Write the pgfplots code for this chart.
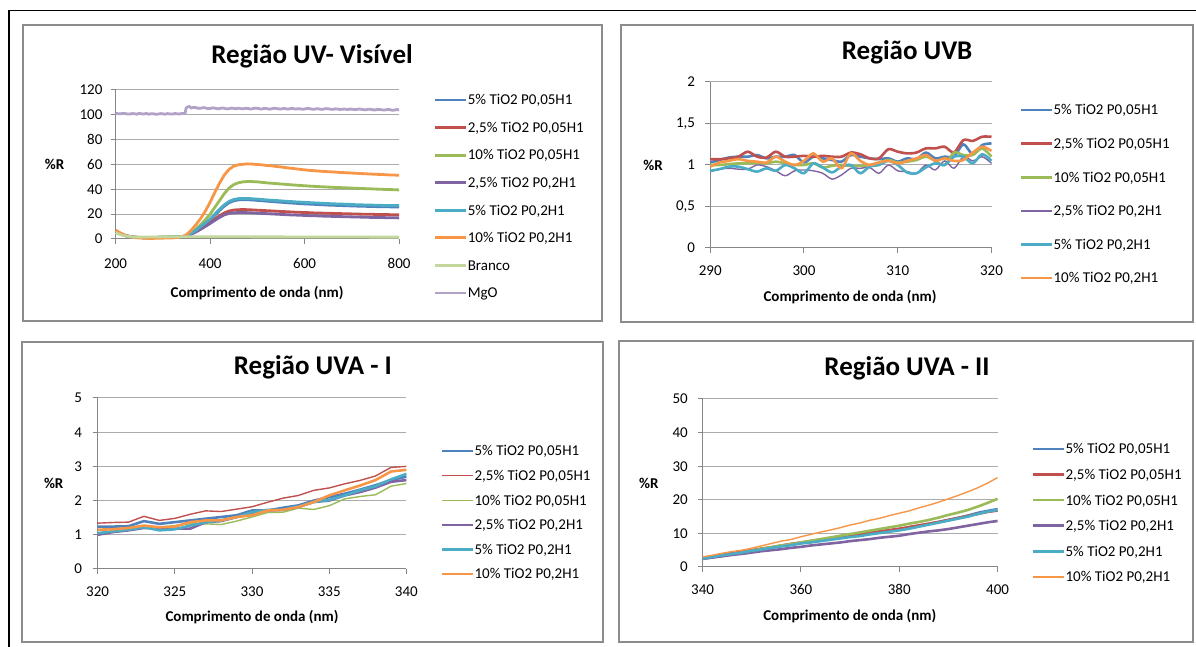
\documentclass[border=0pt]{standalone}
\usepackage{pgfplots}
\pgfplotsset{compat=1.18}
\usepackage{fontspec}
\setmainfont{Carlito}

\definecolor{xblue}{HTML}{4F81BD}
\definecolor{xred}{HTML}{C0504D}
\definecolor{xgreen}{HTML}{9BBB59}
\definecolor{xpurple}{HTML}{8064A2}
\definecolor{xaqua}{HTML}{4BACC6}
\definecolor{xorange}{HTML}{F79646}
\definecolor{xbranco}{HTML}{C3D69B}
\definecolor{xmgo}{HTML}{B3A2C7}
\definecolor{axisgray}{HTML}{868686}
\definecolor{gridgray}{HTML}{ABABAB}
\definecolor{framegray}{HTML}{8C8C8C}

\newcommand\titlefont{\fontsize{27}{32}\selectfont\bfseries}
\newcommand\smallfont{\fontsize{15}{18}\selectfont}

\pgfplotsset{
  panel/.style={
    scale only axis, anchor=south west, enlargelimits=false, clip=false,
    axis lines=left, axis line style={-, draw=axisgray, line width=1pt},
    tick align=outside, major tick length=5pt,
    tick style={draw=axisgray, line width=1pt},
    ymajorgrids, grid style={draw=gridgray, line width=1pt},
    ticklabel style={font=\smallfont, text=black, inner sep=0pt},
    /pgf/number format/assume math mode=true,
    every axis title/.style={font=\titlefont, anchor=base},
    every axis x label/.style={font=\smallfont\bfseries, anchor=base},
    every axis y label/.style={font=\smallfont\bfseries, anchor=base},
    legend cell align=left,
    legend style={draw=none, fill=none, inner sep=0pt, outer sep=0pt,
      anchor=north west, column sep=0pt, font=\smallfont,
      nodes={inner sep=0pt, outer sep=0pt, text height=9.7pt, text depth=0pt}},
    legend image code/.code={\draw[##1] (0pt,0pt) -- (31pt,0pt);},
    every axis plot/.append style={line join=round, no markers},
  },
  wide line/.style={line width=2.8pt},
  thick line/.style={line width=2.6pt},
  thin line/.style={line width=1.4pt},
}

\begin{document}
\begin{tikzpicture}[x=1pt,y=1pt]
\useasboundingbox (0,0) rectangle (1196,647);
% page frame and chart frames
\draw[black, line width=1.7pt] (9,0) -- (9,636.5) -- (1196,636.5);
\draw[framegray, line width=1.5pt] (23,326) rectangle (602,622);
\draw[framegray, line width=1.5pt] (621,325) rectangle (1193,622);
\draw[framegray, line width=1.5pt] (22,5) rectangle (603,305);
\draw[framegray, line width=1.5pt] (619,5) rectangle (1193,306);

% ---------------- Região UV- Visível ----------------
\begin{axis}[panel, at={(115.6pt,408pt)}, width=283.5pt, height=149pt,
  xmin=200, xmax=800, ymin=0, ymax=120,
  xtick={200,400,600,800}, ytick={0,20,...,120},
  xticklabel style={yshift=-14.25pt}, yticklabel style={xshift=-8pt},
  title={Região UV- Visível}, title style={at={(axis description cs:0.693,1.179)}},
  xlabel={Comprimento de onda (nm)}, xlabel style={at={(axis description cs:0.499,-0.394)}},
  ylabel={\%R}, ylabel style={at={(axis description cs:-0.215,0.468)}},
  legend style={at={(axis description cs:1.1231,0.9654)}, row sep=17.87pt},
]
\addplot[xblue, wide line] coordinates {(200,6.0)(210,4.2)(220,2.8)(230,1.9)(240,1.4)(250,1.2)(260,1.1)(270,1.1)(280,1.2)(290,1.3)(300,1.4)(310,1.5)(320,1.5)(330,1.6)(340,1.8)(350,2.4)(360,4.3)(370,6.7)(380,9.5)(390,12.4)(400,15.3)(410,19)(420,23)(430,26.5)(440,29.2)(450,30.8)(460,31.5)(470,31.7)(480,31.6)(490,31.4)(500,31.1)(510,30.8)(520,30.5)(530,30.2)(540,29.9)(550,29.6)(560,29.3)(570,29.0)(580,28.8)(590,28.5)(600,28.3)(610,28.1)(620,27.9)(630,27.7)(640,27.5)(650,27.3)(660,27.2)(670,27.0)(680,26.9)(690,26.8)(700,26.6)(710,26.5)(720,26.4)(730,26.3)(740,26.2)(750,26.1)(760,26.0)(770,25.9)(780,25.9)(790,25.8)(800,25.8)};
\addlegendentry{5\% TiO2 P0,05H1}
\addplot[xred, wide line] coordinates {(200,6.8)(210,4.6)(220,3.0)(230,2.0)(240,1.5)(250,1.2)(260,1.1)(270,1.1)(280,1.1)(290,1.2)(300,1.3)(310,1.4)(320,1.4)(330,1.5)(340,1.7)(350,2.3)(360,4.0)(370,6.0)(380,8.3)(390,10.8)(400,13.3)(410,16)(420,18.7)(430,21)(440,22.5)(450,23.3)(460,23.6)(470,23.7)(480,23.6)(490,23.4)(500,23.2)(510,23.0)(520,22.8)(530,22.6)(540,22.4)(550,22.2)(560,22.0)(570,21.8)(580,21.6)(590,21.5)(600,21.3)(610,21.2)(620,21.0)(630,20.9)(640,20.8)(650,20.7)(660,20.6)(670,20.5)(680,20.4)(690,20.3)(700,20.2)(710,20.1)(720,20.0)(730,19.9)(740,19.9)(750,19.8)(760,19.7)(770,19.7)(780,19.6)(790,19.6)(800,19.5)};
\addlegendentry{2,5\% TiO2 P0,05H1}
\addplot[xgreen, wide line] coordinates {(200,6.0)(210,4.2)(220,2.8)(230,1.9)(240,1.4)(250,1.2)(260,1.1)(270,1.1)(280,1.2)(290,1.3)(300,1.4)(310,1.4)(320,1.5)(330,1.5)(340,1.7)(350,2.5)(360,5)(370,8)(380,11.5)(390,15.5)(400,20)(410,25.5)(420,31)(430,36.5)(440,41)(450,43.8)(460,45.3)(470,46)(480,46.3)(490,46.2)(500,46.0)(510,45.6)(520,45.2)(530,44.9)(540,44.6)(550,44.3)(560,44.0)(570,43.7)(580,43.4)(590,43.1)(600,42.9)(610,42.6)(620,42.4)(630,42.2)(640,42.0)(650,41.8)(660,41.6)(670,41.5)(680,41.3)(690,41.2)(700,41.0)(710,40.8)(720,40.7)(730,40.5)(740,40.4)(750,40.2)(760,40.1)(770,39.9)(780,39.8)(790,39.7)(800,39.5)};
\addlegendentry{10\% TiO2 P0,05H1}
\addplot[xpurple, wide line] coordinates {(200,6.0)(210,4.2)(220,2.8)(230,1.9)(240,1.4)(250,1.2)(260,1.1)(270,1.1)(280,1.2)(290,1.3)(300,1.4)(310,1.5)(320,1.5)(330,1.6)(340,1.8)(350,2.2)(360,3.8)(370,5.7)(380,7.8)(390,10.1)(400,12.5)(410,15)(420,17.4)(430,19.4)(440,20.6)(450,21.1)(460,21.3)(470,21.3)(480,21.2)(490,21.0)(500,20.8)(510,20.6)(520,20.4)(530,20.2)(540,20.0)(550,19.8)(560,19.6)(570,19.4)(580,19.3)(590,19.1)(600,19.0)(610,18.8)(620,18.7)(630,18.6)(640,18.4)(650,18.3)(660,18.2)(670,18.1)(680,18.0)(690,17.9)(700,17.8)(710,17.7)(720,17.6)(730,17.5)(740,17.4)(750,17.3)(760,17.3)(770,17.2)(780,17.1)(790,17.1)(800,17.0)};
\addlegendentry{2,5\% TiO2 P0,2H1}
\addplot[xaqua, wide line] coordinates {(200,6.0)(210,4.2)(220,2.8)(230,1.9)(240,1.4)(250,1.2)(260,1.1)(270,1.1)(280,1.2)(290,1.3)(300,1.4)(310,1.5)(320,1.5)(330,1.6)(340,1.8)(350,2.5)(360,4.5)(370,7)(380,10)(390,13)(400,16)(410,20)(420,24)(430,27.5)(440,30.2)(450,31.8)(460,32.5)(470,32.7)(480,32.6)(490,32.4)(500,32.1)(510,31.8)(520,31.5)(530,31.2)(540,31.0)(550,30.7)(560,30.4)(570,30.2)(580,29.9)(590,29.7)(600,29.5)(610,29.3)(620,29.1)(630,28.9)(640,28.7)(650,28.5)(660,28.4)(670,28.2)(680,28.1)(690,27.9)(700,27.8)(710,27.6)(720,27.5)(730,27.4)(740,27.3)(750,27.2)(760,27.1)(770,27.0)(780,27.0)(790,26.9)(800,26.9)};
\addlegendentry{5\% TiO2 P0,2H1}
\addplot[xorange, wide line] coordinates {(200,7.0)(210,4.8)(220,3.0)(230,1.8)(240,1.1)(250,0.8)(260,0.6)(270,0.5)(280,0.5)(290,0.6)(300,0.7)(310,0.8)(320,0.9)(330,1.1)(340,1.8)(350,3.5)(360,7)(370,11.5)(380,16.5)(390,22.5)(400,29.5)(410,37.5)(420,45)(430,51.5)(440,56)(450,58.7)(460,59.8)(470,60.2)(480,60.5)(490,60.3)(500,60.0)(510,59.7)(520,59.2)(530,58.9)(540,58.4)(550,58.0)(560,57.5)(570,57.0)(580,56.6)(590,56.1)(600,55.7)(610,55.3)(620,55.0)(630,54.7)(640,54.4)(650,54.2)(660,54.0)(670,53.7)(680,53.5)(690,53.3)(700,53.1)(710,52.9)(720,52.7)(730,52.5)(740,52.3)(750,52.1)(760,52.0)(770,51.8)(780,51.6)(790,51.5)(800,51.3)};
\addlegendentry{10\% TiO2 P0,2H1}
\addplot[xbranco, wide line] coordinates {(200,5.0)(210,3.5)(220,2.5)(230,1.9)(240,1.6)(250,1.5)(300,1.7)(350,1.8)(400,1.8)(450,1.8)(500,1.7)(550,1.7)(600,1.6)(650,1.6)(700,1.6)(750,1.5)(800,1.5)};
\addlegendentry{Branco}
\addplot[xmgo, wide line] coordinates {(200,101.3)(205,100.9)(210,100.8)(215,101.2)(220,101.0)(225,100.7)(230,100.6)(235,101.0)(240,100.9)(245,100.5)(250,101.2)(255,100.8)(260,100.7)(265,101.1)(270,100.5)(275,100.9)(280,100.9)(285,100.4)(290,100.6)(295,101.0)(300,100.8)(305,100.5)(310,101.0)(315,100.7)(320,100.6)(325,101.0)(330,100.9)(335,100.6)(340,101.1)(347,101.0)(349,105.2)(352,106.3)(356,106.8)(360,105.5)(365,106.0)(370,105.8)(375,105.2)(380,105.3)(385,105.8)(390,105.6)(395,105.0)(400,105.1)(405,105.6)(410,105.4)(415,104.9)(420,105.0)(425,105.5)(430,105.3)(435,104.8)(440,104.9)(445,105.4)(450,105.2)(455,104.9)(460,105.4)(465,105.0)(470,104.8)(475,105.3)(480,105.1)(485,104.7)(490,104.9)(495,105.4)(500,105.2)(505,104.8)(510,104.7)(515,105.2)(520,105.0)(525,104.6)(530,104.8)(535,105.3)(540,105.1)(545,104.8)(550,104.7)(555,105.1)(560,104.9)(565,104.6)(570,105.0)(575,105.2)(580,104.6)(585,104.9)(590,104.9)(595,104.5)(600,104.7)(605,105.1)(610,105.0)(615,104.6)(620,104.5)(625,104.9)(630,104.8)(635,104.4)(640,104.6)(645,105.0)(650,104.9)(655,104.5)(660,104.4)(665,104.8)(670,104.7)(675,104.3)(680,104.5)(685,104.7)(690,104.2)(695,104.6)(700,104.6)(705,104.2)(710,104.3)(715,104.7)(720,104.5)(725,104.1)(730,104.1)(735,104.5)(740,104.4)(745,104.0)(750,104.0)(755,104.4)(760,104.3)(765,103.9)(770,103.9)(775,104.3)(780,104.2)(785,103.7)(790,103.8)(795,104.2)(800,104.1)};
\addlegendentry{MgO}
\end{axis}

% ---------------- Região UVB ----------------
\begin{axis}[panel, at={(710.2pt,399pt)}, width=281.3pt, height=166pt,
  xmin=290, xmax=320, ymin=0, ymax=2,
  xtick={290,300,310,320}, ytick={0,0.5,1,1.5,2},
  /pgf/number format/use comma,
  xticklabel style={yshift=-12.25pt}, yticklabel style={xshift=-10pt},
  title={Região UVB}, title style={at={(axis description cs:0.700,1.1325)}},
  xlabel={Comprimento de onda (nm)}, xlabel style={at={(axis description cs:0.497,-0.3235)}},
  ylabel={\%R}, ylabel style={at={(axis description cs:-0.203,0.4657)}},
  legend style={at={(axis description cs:1.1013,0.8605)}, row sep=23.9pt},
  every axis plot/.append style={smooth, tension=0.5},
]
\addplot[xblue, thick line] coordinates {(290,1.03)(291,1.06)(292,1.09)(293,1.10)(294,1.10)(295,1.12)(296,1.08)(297,1.10)(298,1.10)(299,1.12)(300,1.03)(301,1.10)(302,1.08)(303,1.06)(304,1.04)(305,1.12)(306,1.10)(307,1.08)(308,1.07)(309,1.08)(310,1.04)(311,1.08)(312,1.07)(313,1.15)(314,1.08)(315,1.10)(316,1.10)(317,1.25)(318,1.13)(319,1.24)(320,1.26)};
\addlegendentry{5\% TiO2 P0,05H1}
\addplot[xred, thick line] coordinates {(290,1.07)(291,1.07)(292,1.08)(293,1.10)(294,1.16)(295,1.10)(296,1.09)(297,1.16)(298,1.10)(299,1.10)(300,1.11)(301,1.10)(302,1.11)(303,1.10)(304,1.10)(305,1.15)(306,1.13)(307,1.08)(308,1.08)(309,1.19)(310,1.16)(311,1.14)(312,1.15)(313,1.20)(314,1.20)(315,1.22)(316,1.15)(317,1.30)(318,1.29)(319,1.34)(320,1.34)};
\addlegendentry{2,5\% TiO2 P0,05H1}
\addplot[xgreen, thick line] coordinates {(290,1.00)(291,1.00)(292,1.01)(293,1.02)(294,1.02)(295,1.02)(296,1.02)(297,1.04)(298,1.02)(299,1.00)(300,1.00)(301,1.02)(302,0.97)(303,0.99)(304,1.00)(305,0.99)(306,0.99)(307,1.00)(308,1.03)(309,1.06)(310,1.03)(311,1.04)(312,1.06)(313,1.10)(314,1.05)(315,1.00)(316,1.15)(317,1.12)(318,1.12)(319,1.20)(320,1.10)};
\addlegendentry{10\% TiO2 P0,05H1}
\addplot[xpurple, thin line] coordinates {(290,0.92)(291,0.95)(292,0.96)(293,0.95)(294,0.95)(295,1.00)(296,0.98)(297,0.93)(298,0.87)(299,0.93)(300,0.94)(301,0.93)(302,0.90)(303,0.83)(304,0.88)(305,0.96)(306,0.96)(307,0.97)(308,0.90)(309,1.00)(310,0.93)(311,0.92)(312,0.90)(313,1.00)(314,0.94)(315,1.05)(316,0.96)(317,1.10)(318,1.05)(319,1.10)(320,1.02)};
\addlegendentry{2,5\% TiO2 P0,2H1}
\addplot[xaqua, thick line] coordinates {(290,0.93)(291,0.95)(292,0.98)(293,0.98)(294,0.95)(295,0.92)(296,0.96)(297,0.93)(298,1.00)(299,0.96)(300,0.90)(301,1.02)(302,0.97)(303,0.91)(304,0.98)(305,1.00)(306,0.90)(307,0.98)(308,1.00)(309,1.05)(310,1.00)(311,0.91)(312,0.90)(313,0.97)(314,1.02)(315,1.00)(316,1.10)(317,1.10)(318,1.02)(319,1.13)(320,1.05)};
\addlegendentry{5\% TiO2 P0,2H1}
\addplot[xorange, thick line] coordinates {(290,0.98)(291,1.03)(292,1.05)(293,1.07)(294,1.05)(295,1.04)(296,1.03)(297,1.10)(298,1.04)(299,1.00)(300,1.05)(301,1.14)(302,1.04)(303,1.08)(304,0.96)(305,1.14)(306,1.05)(307,1.00)(308,1.03)(309,1.05)(310,1.02)(311,1.05)(312,1.08)(313,1.12)(314,1.05)(315,1.08)(316,1.05)(317,1.06)(318,1.15)(319,1.22)(320,1.17)};
\addlegendentry{10\% TiO2 P0,2H1}
\end{axis}

% ---------------- Região UVA - I ----------------
\begin{axis}[panel, at={(97.6pt,78pt)}, width=308.8pt, height=171pt,
  xmin=320, xmax=340, ymin=0, ymax=5,
  xtick={320,325,330,335,340}, ytick={0,1,...,5},
  xticklabel style={yshift=-12.25pt}, yticklabel style={xshift=-10.3pt},
  title={Região UVA - I}, title style={at={(axis description cs:0.697,1.1345)}},
  xlabel={Comprimento de onda (nm)}, xlabel style={at={(axis description cs:0.500,-0.308)}},
  ylabel={\%R}, ylabel style={at={(axis description cs:-0.142,0.4696)}},
  legend style={at={(axis description cs:1.1120,0.7184)}, row sep=14.9pt},
]
\addplot[xblue, thick line] coordinates {(320,1.24)(321,1.24)(322,1.25)(323,1.40)(324,1.32)(325,1.37)(326,1.42)(327,1.47)(328,1.52)(329,1.57)(330,1.71)(331,1.71)(332,1.79)(333,1.86)(334,2.00)(335,2.10)(336,2.20)(337,2.32)(338,2.45)(339,2.60)(340,2.70)};
\addlegendentry{5\% TiO2 P0,05H1}
\addplot[xred, thin line] coordinates {(320,1.34)(321,1.36)(322,1.37)(323,1.54)(324,1.42)(325,1.48)(326,1.60)(327,1.70)(328,1.68)(329,1.75)(330,1.82)(331,1.95)(332,2.07)(333,2.15)(334,2.30)(335,2.37)(336,2.49)(337,2.59)(338,2.72)(339,2.97)(340,3.00)};
\addlegendentry{2,5\% TiO2 P0,05H1}
\addplot[xgreen, thin line] coordinates {(320,1.13)(321,1.18)(322,1.20)(323,1.27)(324,1.22)(325,1.27)(326,1.32)(327,1.32)(328,1.30)(329,1.40)(330,1.52)(331,1.65)(332,1.66)(333,1.78)(334,1.74)(335,1.85)(336,2.05)(337,2.12)(338,2.17)(339,2.42)(340,2.50)};
\addlegendentry{10\% TiO2 P0,05H1}
\addplot[xpurple, thick line] coordinates {(320,1.00)(321,1.08)(322,1.13)(323,1.20)(324,1.20)(325,1.18)(326,1.18)(327,1.37)(328,1.40)(329,1.52)(330,1.61)(331,1.71)(332,1.73)(333,1.81)(334,1.96)(335,2.00)(336,2.15)(337,2.25)(338,2.38)(339,2.55)(340,2.60)};
\addlegendentry{2,5\% TiO2 P0,2H1}
\addplot[xaqua, thick line] coordinates {(320,1.05)(321,1.10)(322,1.15)(323,1.22)(324,1.13)(325,1.16)(326,1.27)(327,1.37)(328,1.42)(329,1.52)(330,1.66)(331,1.73)(332,1.73)(333,1.83)(334,1.96)(335,2.02)(336,2.15)(337,2.30)(338,2.42)(339,2.62)(340,2.78)};
\addlegendentry{5\% TiO2 P0,2H1}
\addplot[xorange, thick line] coordinates {(320,1.15)(321,1.16)(322,1.20)(323,1.27)(324,1.22)(325,1.24)(326,1.37)(327,1.42)(328,1.42)(329,1.52)(330,1.57)(331,1.71)(332,1.73)(333,1.81)(334,1.96)(335,2.15)(336,2.30)(337,2.44)(338,2.60)(339,2.85)(340,2.90)};
\addlegendentry{10\% TiO2 P0,2H1}
\end{axis}

% ---------------- Região UVA - II ----------------
\begin{axis}[panel, at={(702.6pt,80pt)}, width=295pt, height=168pt,
  xmin=340, xmax=400, ymin=0, ymax=50,
  xtick={340,360,380,400}, ytick={0,10,...,50},
  xticklabel style={yshift=-12.25pt}, yticklabel style={xshift=-9.6pt},
  title={Região UVA - II}, title style={at={(axis description cs:0.693,1.1387)}},
  xlabel={Comprimento de onda (nm)}, xlabel style={at={(axis description cs:0.499,-0.3196)}},
  ylabel={\%R}, ylabel style={at={(axis description cs:-0.182,0.468)}},
  legend style={at={(axis description cs:1.1166,0.7313)}, row sep=15.9pt},
]
\addplot[xblue, thin line] coordinates {(340,2.6)(342,3.1)(344,3.6)(346,4.0)(348,4.5)(350,4.9)(352,5.4)(354,5.8)(356,6.3)(358,6.7)(360,7.1)(362,7.5)(364,7.9)(366,8.3)(368,8.8)(370,9.3)(372,9.6)(374,10.1)(376,10.5)(378,10.9)(380,11.3)(382,11.9)(384,12.4)(386,13.0)(388,13.6)(390,14.2)(392,14.8)(394,15.5)(396,16.3)(398,16.9)(400,17.4)};
\addlegendentry{5\% TiO2 P0,05H1}
\addplot[xred, thick line] coordinates {(340,2.7)(342,3.2)(344,3.7)(346,4.2)(348,4.6)(350,5.0)(352,5.5)(354,5.9)(356,6.4)(358,6.9)(360,7.3)(362,7.7)(364,8.1)(366,8.5)(368,9.0)(370,9.4)(372,9.8)(374,10.2)(376,10.6)(378,11.0)(380,11.4)(382,11.9)(384,12.4)(386,12.9)(388,13.4)(390,14.0)(392,14.6)(394,15.2)(396,15.8)(398,16.4)(400,16.8)};
\addlegendentry{2,5\% TiO2 P0,05H1}
\addplot[xgreen, thick line] coordinates {(340,2.5)(342,2.9)(344,3.3)(346,3.7)(348,4.3)(350,4.9)(352,5.4)(354,5.9)(356,6.4)(358,6.8)(360,7.3)(362,7.8)(364,8.3)(366,8.8)(368,9.3)(370,9.8)(372,10.3)(374,10.8)(376,11.3)(378,11.8)(380,12.3)(382,12.9)(384,13.4)(386,14.0)(388,14.7)(390,15.5)(392,16.2)(394,17.0)(396,18.0)(398,19.1)(400,20.3)};
\addlegendentry{10\% TiO2 P0,05H1}
\addplot[xpurple, thick line] coordinates {(340,2.4)(342,2.8)(344,3.2)(346,3.6)(348,3.9)(350,4.3)(352,4.7)(354,5.0)(356,5.3)(358,5.7)(360,6.0)(362,6.4)(364,6.7)(366,7.0)(368,7.3)(370,7.7)(372,8.0)(374,8.3)(376,8.7)(378,9.0)(380,9.3)(382,9.8)(384,10.2)(386,10.6)(388,10.9)(390,11.3)(392,11.8)(394,12.3)(396,12.8)(398,13.3)(400,13.7)};
\addlegendentry{2,5\% TiO2 P0,2H1}
\addplot[xaqua, thick line] coordinates {(340,2.5)(342,3.0)(344,3.5)(346,3.9)(348,4.3)(350,4.8)(352,5.2)(354,5.7)(356,6.1)(358,6.5)(360,7.0)(362,7.3)(364,7.7)(366,8.1)(368,8.5)(370,8.9)(372,9.2)(374,9.7)(376,10.1)(378,10.5)(380,10.9)(382,11.4)(384,12.0)(386,12.6)(388,13.2)(390,13.8)(392,14.4)(394,15.0)(396,15.8)(398,16.5)(400,17.0)};
\addlegendentry{5\% TiO2 P0,2H1}
\addplot[xorange, thin line] coordinates {(340,3.0)(342,3.5)(344,4.1)(346,4.6)(348,5.0)(350,5.6)(352,6.3)(354,7.0)(356,7.7)(358,8.2)(360,9.0)(362,9.7)(364,10.4)(366,11.0)(368,11.7)(370,12.5)(372,13.1)(374,13.9)(376,14.5)(378,15.3)(380,16.0)(382,16.7)(384,17.6)(386,18.4)(388,19.3)(390,20.3)(392,21.3)(394,22.4)(396,23.6)(398,25.0)(400,26.6)};
\addlegendentry{10\% TiO2 P0,2H1}
\end{axis}
\end{tikzpicture}
\end{document}
